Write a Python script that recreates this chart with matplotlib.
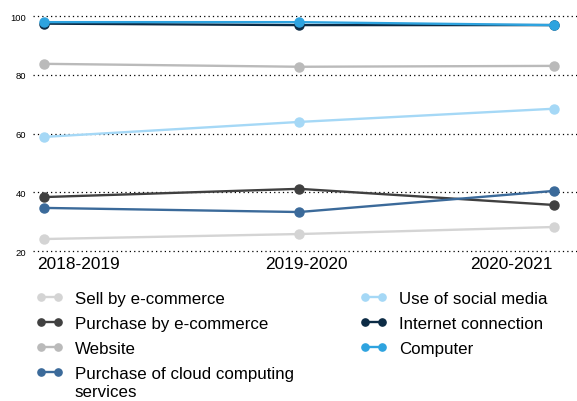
import matplotlib.pyplot as plt
from matplotlib.transforms import ScaledTranslation

plt.rcParams['font.family'] = ['Liberation Sans', 'DejaVu Sans']

years = ['2018-2019', '2019-2020', '2020-2021']
sell_ecommerce = [24.1, 25.8, 28.2]
purchase_ecommerce = [38.4, 41.2, 35.7]
website = [83.8, 82.8, 83.1]
cloud = [34.7, 33.3, 40.5]
social_media = [58.9, 64.0, 68.5]
internet = [97.5, 97.0, 97.0]
computer = [98.0, 98.0, 97.0]

series = [
    ('Sell by e-commerce', sell_ecommerce, '#d4d4d4'),
    ('Purchase by e-commerce', purchase_ecommerce, '#404040'),
    ('Website', website, '#bababa'),
    ('Purchase of cloud computing', cloud, '#3b6a9a'),
    ('Use of social media', social_media, '#a5d8f6'),
    ('Internet connection', internet, '#0c2b45'),
    ('Computer', computer, '#2ea3df'),
]

fig = plt.figure(figsize=(5.77, 4.02), dpi=100)
ax = fig.add_axes([0.057, 0.373, 0.943, 0.584])

x = range(len(years))
for label, vals, color in series:
    ax.plot(x, vals, color=color, lw=1.7, marker='o', ms=6.5, label=label)

ax.set_ylim(20, 100)
ax.set_xlim(-0.045, 2.09)
ax.set_yticks([20, 40, 60, 80, 100])
ax.set_xticks(list(x))
ax.set_xticklabels(years, fontsize=12.4)
ax.tick_params(axis='y', labelsize=6.8, length=0, pad=5)
ax.tick_params(axis='x', length=0, pad=3.5)
ax.grid(axis='y', color='black', linestyle=(0, (1, 2.5)), lw=0.9)
for gl in ax.get_ygridlines():
    gl.set_clip_on(False)
ax.set_axisbelow(True)
for s in ax.spines.values():
    s.set_visible(False)

# x labels: first left-aligned, middle centred, last right-aligned
offsets = [(-7, 'left'), (7, 'center'), (-1, 'right')]
for lab, (dx, ha) in zip(ax.get_xticklabels(), offsets):
    lab.set_ha(ha)
    lab.set_transform(lab.get_transform() + ScaledTranslation(dx / 100, 0, fig.dpi_scale_trans))

leg = fig.legend(loc='upper left', bbox_to_anchor=(0.062, 0.274), ncol=2,
                 frameon=False, fontsize=12.2, numpoints=2, handlelength=1.6,
                 handletextpad=0.7, columnspacing=3.9, labelspacing=0.6,
                 markerscale=0.8, borderpad=0, borderaxespad=0)

# second line of the cloud label, under its first line
fig.canvas.draw()
bb = leg.get_texts()[3].get_window_extent()
W, H = fig.bbox.width, fig.bbox.height
fig.text(bb.x0 / W, (bb.y0 - 18) / H, 'services', fontsize=12.2, va='bottom', ha='left')

fig.savefig('out.png', dpi=100)
